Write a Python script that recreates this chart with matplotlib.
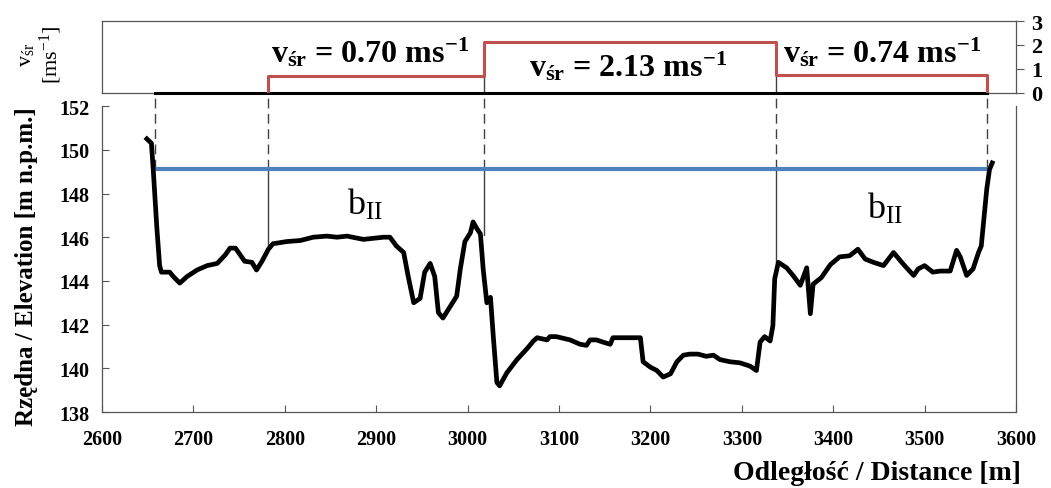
import matplotlib
matplotlib.use('Agg')
import matplotlib.pyplot as plt

# elevation profile
dist = [2649, 2654, 2656, 2660, 2663, 2665, 2674, 2678, 2685, 2693, 2704, 2715, 2726, 2735,
        2740, 2746, 2751, 2756, 2764, 2769, 2775, 2782, 2787, 2802, 2817, 2831, 2846, 2857,
        2868, 2886, 2908, 2915, 2922, 2930, 2935, 2941, 2948, 2953, 2959, 2964, 2968, 2973,
        2979, 2988, 2992, 2997, 3003, 3006, 3010, 3014, 3017, 3021, 3025, 3028, 3032, 3035,
        3043, 3054, 3065, 3072, 3076, 3087, 3090, 3097, 3112, 3123, 3130, 3134, 3141, 3148,
        3156, 3159, 3174, 3189, 3192, 3200, 3207, 3214, 3222, 3229, 3236, 3243, 3252, 3261,
        3269, 3276, 3287, 3298, 3309, 3316, 3320, 3325, 3331, 3334, 3336, 3340, 3349, 3356,
        3364, 3371, 3375, 3378, 3387, 3397, 3407, 3418, 3427, 3435, 3444, 3455, 3466, 3477,
        3488, 3493, 3500, 3509, 3517, 3528, 3535, 3539, 3546, 3553, 3559, 3562, 3568, 3571,
        3574]
elev = [150.5, 150.3, 149.1, 146.4, 144.7, 144.4, 144.4, 144.2, 143.9, 144.2, 144.5, 144.7,
        144.8, 145.2, 145.5, 145.5, 145.2, 144.9, 144.85, 144.5, 144.9, 145.45, 145.7, 145.8,
        145.85, 146.0, 146.05, 146.0, 146.05, 145.9, 146.0, 146.0, 145.6, 145.3, 144.2, 143.0,
        143.2, 144.4, 144.8, 144.2, 142.55, 142.3, 142.7, 143.3, 144.55, 145.8, 146.2, 146.7,
        146.4, 146.15, 144.55, 143.0, 143.25, 141.5, 139.35, 139.2, 139.8, 140.4, 140.9, 141.25,
        141.4, 141.3, 141.45, 141.45, 141.3, 141.1, 141.05, 141.3, 141.3, 141.2, 141.1, 141.4,
        141.4, 141.4, 140.3, 140.05, 139.9, 139.6, 139.75, 140.3, 140.6, 140.65, 140.65, 140.55,
        140.6, 140.4, 140.3, 140.25, 140.1, 139.9, 141.2, 141.45, 141.25, 141.95, 144.1, 144.85,
        144.6, 144.25, 143.8, 144.6, 142.5, 143.85, 144.15, 144.75, 145.1, 145.15, 145.45, 145.0,
        144.85, 144.7, 145.3, 144.75, 144.25, 144.55, 144.7, 144.4, 144.45, 144.45, 145.4, 145.1,
        144.25, 144.55, 145.3, 145.6, 148.2, 149.1, 149.4]

water_level = 149.1
bank_left, bank_right = 2658, 3568

# zone boundaries and mean velocities
zone_edges = [2782, 3018, 3337, 3568]
zone_vel = [0.70, 2.13, 0.74]
zone_labels = ['0.70', '2.13', '0.74']
edge_bottoms = [145.45, 146.1, 144.85]

plt.rcParams['font.family'] = ['Liberation Serif', 'DejaVu Serif']
plt.rcParams['mathtext.fontset'] = 'custom'
plt.rcParams['mathtext.rm'] = 'Liberation Serif'
plt.rcParams['mathtext.it'] = 'Liberation Serif:italic'
plt.rcParams['mathtext.bf'] = 'Liberation Serif:bold'

fig = plt.figure(figsize=(10.51, 4.89), dpi=100)
ax = fig.add_axes([0.0971, 0.1554, 0.8696, 0.6524])
top = fig.add_axes([0.0971, 0.8078, 0.8696, 0.1472])

grey = '#555555'

# ---- main profile ----
ax.set_xlim(2600, 3600)
ax.set_ylim(138, 152.6)
ax.plot(dist, elev, color='black', lw=3.4, solid_joinstyle='round', zorder=4)
ax.plot([bank_left, bank_right], [water_level, water_level], color='#4F81BD', lw=3.0, zorder=3)

top_y = 152.6
for xv in [bank_left] + zone_edges:
    ax.plot([xv, xv], [water_level, top_y], color='#404040', lw=1.0,
            dashes=(7, 4), clip_on=False, zorder=2)
for xv, yb in zip(zone_edges[:3], edge_bottoms):
    ax.plot([xv, xv], [yb, water_level], color='#404040', lw=1.0, zorder=2)

ax.text(2888, 147.5, r'$\mathrm{b_{II}}$', fontsize=26, ha='center', va='center')
ax.text(3457, 147.3, r'$\mathrm{b_{II}}$', fontsize=26, ha='center', va='center')

ax.set_xticks(range(2600, 3601, 100))
ax.set_yticks(range(138, 153, 2))
ax.tick_params(direction='in', length=5, width=0.8, color=grey, labelsize=14.5)
ax.tick_params(axis='x', pad=12)
ax.tick_params(axis='y', pad=9)
for lab in ax.get_xticklabels() + ax.get_yticklabels():
    lab.set_fontweight('bold')
ax.spines['top'].set_visible(False)
for s in ['left', 'right', 'bottom']:
    ax.spines[s].set_color(grey)
    ax.spines[s].set_linewidth(0.9)
ax.spines['left'].set_bounds(138, 152)
ax.spines['right'].set_bounds(138, 152)

ax.set_xlabel('Odległość / Distance [m]', fontsize=20, fontweight='bold')
ax.xaxis.set_label_coords(1.005, -0.15)
ax.xaxis.label.set_horizontalalignment('right')
ax.set_ylabel('Rzędna / Elevation [m n.p.m.]', fontsize=18, fontweight='bold')
ax.yaxis.set_label_coords(-0.07, 0.46)

# ---- velocity panel ----
top.set_xlim(2600, 3600)
top.set_ylim(0, 3)
top.plot([bank_left, bank_right], [0, 0], color='black', lw=2.2, clip_on=False, zorder=3)
vx = [zone_edges[0]]
vy = [0]
for i, v in enumerate(zone_vel):
    vx += [zone_edges[i], zone_edges[i + 1]]
    vy += [v, v]
vx.append(zone_edges[-1])
vy.append(0)
top.plot(vx, vy, color='#C0504D', lw=2.2, zorder=4)
top.plot([zone_edges[1], zone_edges[1]], [0, zone_vel[0]], color='#404040', lw=1.0, zorder=2)
top.plot([zone_edges[2], zone_edges[2]], [0, zone_vel[2]], color='#404040', lw=1.0, zorder=2)

label_pos = [(2893, 1.72), (3176, 1.12), (3453, 1.72)]
for (lx, ly), txt in zip(label_pos, zone_labels):
    top.text(lx, ly, r'$\mathbf{v_{śr}}$ = ' + txt + r' ms$^{\mathbf{-1}}$',
             fontsize=23, fontweight='bold', ha='center', va='center')

top.set_xticks([])
top.yaxis.tick_right()
top.set_yticks([0, 1, 2, 3])
top.tick_params(axis='y', direction='out', length=6, width=0.8, color=grey,
                labelsize=16, pad=5)
for lab in top.get_yticklabels():
    lab.set_fontweight('bold')
for s in top.spines.values():
    s.set_color(grey)
    s.set_linewidth(0.9)
top.set_ylabel(r'$\mathrm{v_{śr}}$' + '\n' + r'[ms$^{\mathrm{-1}}$]', fontsize=16, linespacing=1.1)
top.yaxis.set_label_position('left')
top.yaxis.set_label_coords(-0.042, 0.55)

fig.savefig('out.png', dpi=100)
